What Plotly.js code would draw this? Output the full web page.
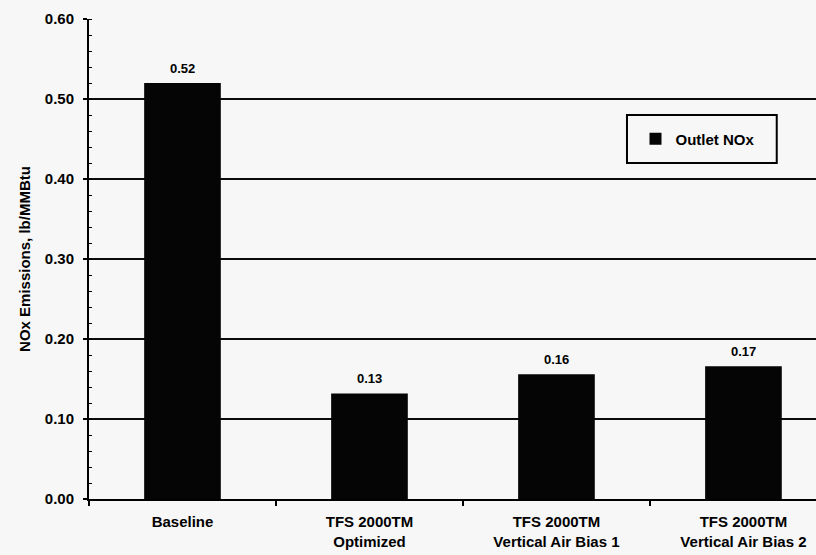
<!DOCTYPE html>
<html>
<head>
<meta charset="utf-8">
<script src="https://cdn.plot.ly/plotly-3.0.1.min.js"></script>
<style>
  html, body { margin: 0; padding: 0; background: #f7f7f7; }
  #chart { width: 816px; height: 555px; }
</style>
</head>
<body>
<div id="chart"></div>
<script>
// Outlet NOx emissions by firing configuration (lb/MMBtu)
const categories = [
  'Baseline',
  'TFS 2000TM<br>Optimized',
  'TFS 2000TM<br>Vertical Air Bias 1',
  'TFS 2000TM<br>Vertical Air Bias 2'
];
const outletNOx = [0.52, 0.132, 0.156, 0.166];
const seriesName = 'Outlet NOx';
const yTitle = 'NOx Emissions, lb/MMBtu';

const FONT = 'Liberation Sans, Arial, sans-serif';
const BG = '#f7f7f7';

const trace = {
  type: 'bar',
  name: seriesName,
  x: categories,
  y: outletNOx,
  marker: { color: '#050505', line: { width: 0 } },
  showlegend: true,
  hoverinfo: 'y'
};

// value labels above each bar, read from the same series
const labels = categories.map((c, i) => ({
  x: c,
  y: outletNOx[i],
  xref: 'x',
  yref: 'y',
  text: '<b>' + outletNOx[i].toFixed(2) + '</b>',
  showarrow: false,
  yanchor: 'bottom',
  yshift: 5,
  font: { family: FONT, size: 13, color: '#000' }
}));

const layout = {
  width: 816,
  height: 555,
  paper_bgcolor: BG,
  plot_bgcolor: BG,
  margin: { l: 89, r: 0, t: 19, b: 56 },
  bargap: 0.59,
  font: { family: FONT, color: '#000' },
  xaxis: {
    type: 'category',
    range: [-0.5, 3.388],
    showline: true,
    linecolor: '#000',
    linewidth: 2,
    showgrid: false,
    zeroline: false,
    tickson: 'boundaries',
    ticks: 'outside',
    ticklen: 5,
    tickwidth: 1.5,
    tickcolor: '#000',
    ticklabelstandoff: 8,
    tickfont: { family: FONT, size: 15, color: '#000', weight: 'bold' }
  },
  yaxis: {
    range: [0, 0.6],
    dtick: 0.1,
    tick0: 0,
    tickformat: '.2f',
    showline: true,
    linecolor: '#000',
    linewidth: 2,
    showgrid: true,
    gridcolor: '#0a0a0a',
    gridwidth: 2,
    zeroline: false,
    ticks: 'outside',
    ticklen: 4,
    tickwidth: 1.5,
    tickcolor: '#000',
    ticklabelstandoff: 6,
    tickfont: { family: FONT, size: 15, color: '#000', weight: 'bold' },
    minor: { dtick: 0.02, ticks: 'inside', ticklen: 3, tickcolor: '#000', tickwidth: 1, showgrid: false },
    title: {
      text: yTitle,
      standoff: 11,
      font: { family: FONT, size: 15, color: '#000', weight: 'bold' }
    }
  },
  legend: {
    x: 0.837,
    y: 0.75,
    xanchor: 'center',
    yanchor: 'middle',
    bgcolor: 'rgba(0,0,0,0)',
    borderwidth: 0,
    itemwidth: 30,
    font: { family: FONT, size: 15, color: '#000', weight: 'bold' }
  },
  shapes: [{
    type: 'rect',
    xref: 'paper',
    yref: 'paper',
    x0: 0.740, x1: 0.946,
    y0: 0.70, y1: 0.80,
    line: { color: '#000', width: 2 },
    fillcolor: BG,
    layer: 'above'
  }],
  annotations: labels
};

Plotly.newPlot('chart', [trace], layout, { displayModeBar: false, staticPlot: true });
</script>
</body>
</html>
